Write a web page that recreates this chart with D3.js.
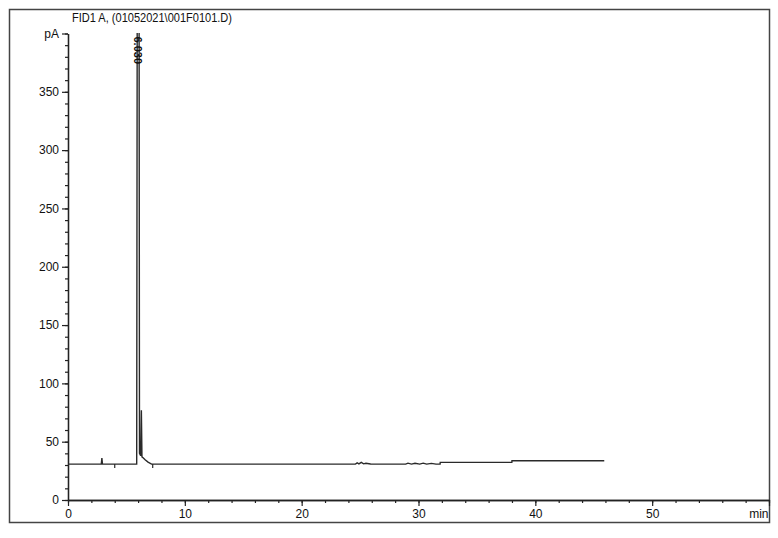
<!DOCTYPE html>
<html>
<head>
<meta charset="utf-8">
<script src="https://cdn.jsdelivr.net/npm/d3@7"></script>
<style>
  body { margin: 0; background: #fff; }
  text { font-family: "Liberation Sans Narrow", "Arial Narrow", "Liberation Sans", Arial, sans-serif; }
</style>
</head>
<body>
<div id="container"></div>
<script>
// Signal FID (pA) en fonction du temps (min)
const title = "FID1 A, (01052021\\001F0101.D)";
const timeMin = [0, 2.85, 2.9, 2.95, 5.88, 5.93, 6.08, 6.12, 6.22, 6.28, 6.33, 6.45, 6.6, 6.85, 7.15,
  24.6, 24.75, 24.9, 25.1, 25.3, 25.5, 25.9, 28.9, 29.1, 29.4, 29.7, 30.1, 30.4, 30.7, 31.1, 31.5, 31.85, 31.86, 37.99, 38.0, 45.9];
const signalPA = [30.8, 30.8, 36, 30.8, 30.8, 470, 470, 40, 38, 77, 37, 36, 34.5, 32.5, 30.8,
  30.8, 31.8, 31.0, 32.3, 31.0, 31.5, 30.9, 30.8, 31.6, 30.8, 31.5, 30.8, 31.6, 30.8, 31.4, 30.8, 30.8, 32.3, 32.3, 33.6, 33.6];
const yMajor = [0, 50, 100, 150, 200, 250, 300, 350, 400];
const yMinor = d3.range(0, 401, 10);
const xMajor = [0, 10, 20, 30, 40, 50, 60];
const xMinor = d3.range(0, 61, 2);
const peakLabel = "6.030";
const peakTime = 6.0;
const eventTimes = [4.0, 7.25];

const svg = d3.select("#container")
  .append("svg")
  .attr("width", 778)
  .attr("height", 538);

// cadre
svg.append("rect")
  .attr("x", 9.5).attr("y", 9.5)
  .attr("width", 760).attr("height", 513)
  .attr("fill", "none")
  .attr("stroke", "#444")
  .attr("stroke-width", 1.5);

const x = d3.scaleLinear().domain([0, 60]).range([68, 769]);
const y = d3.scaleLinear().domain([0, 400]).range([500, 33.5]);

// titre
svg.append("text")
  .attr("x", 72).attr("y", 22)
  .style("font-size", "12px")
  .attr("textLength", 160)
  .attr("lengthAdjust", "spacingAndGlyphs")
  .attr("fill", "#111")
  .text(title);

// axes
const styleAxis = g => {
  g.select(".domain").attr("stroke", "#222").attr("stroke-width", 1.3);
  g.selectAll(".tick line").attr("stroke", "#222").attr("stroke-width", 1.2);
  g.selectAll(".tick text").style("font-size", "12px").attr("fill", "#111")
    .style("font-family", "'Liberation Sans Narrow', 'Arial Narrow', Arial, sans-serif");
};

svg.append("g")
  .attr("transform", "translate(0,500)")
  .call(d3.axisBottom(x).tickValues(xMinor).tickSize(3).tickSizeOuter(0).tickFormat(""))
  .call(styleAxis);

const xAxis = svg.append("g")
  .attr("transform", "translate(0,500)")
  .call(d3.axisBottom(x).tickValues(xMajor).tickSize(6).tickSizeOuter(0)
    .tickFormat(d => d === 60 ? "min" : d))
  .call(styleAxis);
xAxis.selectAll(".tick text").filter(d => d === 60)
  .attr("text-anchor", "end").attr("x", -1);

svg.append("g")
  .attr("transform", "translate(68,0)")
  .call(d3.axisLeft(y).tickValues(yMinor).tickSize(3).tickSizeOuter(0).tickFormat(""))
  .call(styleAxis);

svg.append("g")
  .attr("transform", "translate(68,0)")
  .call(d3.axisLeft(y).tickValues(yMajor).tickSize(6).tickSizeOuter(0)
    .tickFormat(d => d === 400 ? "pA" : d))
  .call(styleAxis);

// zone de tracé
svg.append("clipPath").attr("id", "plot")
  .append("rect").attr("x", 68).attr("y", 33).attr("width", 701).attr("height", 467);

const line = d3.line()
  .x((d, i) => x(timeMin[i]))
  .y(d => y(d));

svg.append("path")
  .datum(signalPA)
  .attr("clip-path", "url(#plot)")
  .attr("fill", "none")
  .attr("stroke", "#2a2a2a")
  .attr("stroke-width", 1.4)
  .attr("d", line);

// marques d'intégration
svg.selectAll(".event")
  .data(eventTimes)
  .enter()
  .append("line")
  .attr("x1", d => x(d)).attr("x2", d => x(d))
  .attr("y1", y(30.8)).attr("y2", y(30.8) + 4)
  .attr("stroke", "#2a2a2a")
  .attr("stroke-width", 1.2);

// étiquette du pic
svg.append("text")
  .attr("transform", `translate(${x(peakTime) - 4},${y(400) + 3}) rotate(90)`)
  .style("font-size", "11px")
  .style("font-weight", "bold")
  .attr("fill", "#111")
  .text(peakLabel);
</script>
</body>
</html>
